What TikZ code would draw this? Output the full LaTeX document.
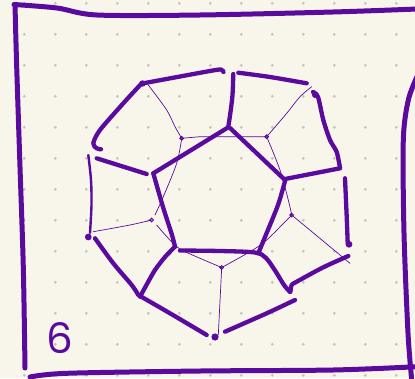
\documentclass[tikz,border=0pt]{standalone}
\usepackage{fontspec}
\newfontfamily\handfont{Poppins}
\usetikzlibrary{calc}
\definecolor{skInk}{HTML}{5B0A9E}
\definecolor{skPaper}{HTML}{F8F6EB}
\definecolor{skDot}{HTML}{C6C6BF}
\tikzset{
  pen/.style={draw=skInk, line width=4.3pt, line cap=round, line join=round},
  penMid/.style={pen, line width=2.4pt},
  penThin/.style={draw=skInk, line width=0.7pt, line cap=round, line join=round},
  frame/.style={pen, line width=5pt},
  blob/.style={fill=skInk},
  dualmark/.style={draw=skInk, line width=1pt},
}
\begin{document}
\begin{tikzpicture}[x=1pt,y=-1pt]
  \useasboundingbox (0,0) rectangle (415,378);
  \fill[skPaper] (0,0) rectangle (415,378);
  \foreach \i in {0,...,12}
    \foreach \j in {0,...,12}
      \fill[skDot] (24.3+31*\i,3.3+31*\j) circle (1.6);

  % frame
  \draw[frame] plot[smooth] coordinates {(14,4.5) (57,8) (97,15) (200,15) (333,12) (417,9)};
  \draw[frame] plot[smooth] coordinates {(15,5) (16.7,67) (20,167) (23.3,267) (25,368)};
  \draw[frame] plot[smooth] coordinates {(30,377) (66.7,373.3) (200,371) (333,370) (417,366.7)};
  \draw[frame] plot[smooth] coordinates {(417,76.7) (408.3,100) (403.3,140) (404,233) (408,333) (411.7,380)};

  % dual points
  \coordinate (m1) at (181.7,138.3);
  \coordinate (m2) at (266.7,136.7);
  \coordinate (m3) at (291.7,215);
  \coordinate (m4) at (221.7,267.5);
  \coordinate (m5) at (151.7,220);

  % inner pentagon
  \draw[pen] (153.3,173.3) -- (228.3,127.3);
  \draw[pen] (230,128) -- (285,180);
  \draw[pen] plot[smooth] coordinates {(285,181) (278,205) (265,237) (258.3,253.3)};
  \draw[pen] plot[smooth, tension=0.5] coordinates {(180,250.5) (220,251) (255,252.5) (266,258) (276,272) (284,285) (290,292)};
  \draw[pen] plot[smooth] coordinates {(153.3,173.3) (163,207) (172,235) (175,246.7)};

  % spokes
  \draw[pen] plot[smooth] coordinates {(228.3,126.7) (230.5,112) (232.5,95) (233.3,74)};
  \draw[pen] (285,179) -- (340,168.3);
  \draw[pen] (146.7,174) -- (96.7,158.3);
  \draw[pen] plot[smooth] coordinates {(175,246.7) (165,257) (155,270) (147,284) (140,296.7)};

  % outer ring
  \draw[pen] plot[smooth] coordinates {(143.3,83.3) (180,76.5) (210,71) (221,69.5) (223.5,72)};
  \draw[pen] plot[smooth] coordinates {(238.3,72.7) (270,77) (306.7,83.3)};
  \draw[pen] plot[smooth] coordinates {(313,92) (318,97) (323.3,120) (330,140) (336.7,152) (340,168)};
  \draw[pen] plot[smooth] coordinates {(345,178.3) (346.7,216.7) (347.7,243.3)};
  \draw[pen] plot[smooth, tension=0.5] coordinates {(348.3,256) (323.3,267.3) (296.7,281.7) (291.7,285) (290.5,291.7)};
  \draw[pen] plot[smooth] coordinates {(295,300) (266.7,313.3) (225,331.7)};
  \draw[pen] plot[smooth] coordinates {(206.7,335) (170,313.3) (140,296)};
  \draw[pen] plot[smooth] coordinates {(138.3,295) (131.7,285) (113.3,263.3) (95,238.3)};
  \draw[penMid] plot[smooth] coordinates {(88.3,155) (91,180) (91.5,205) (90,233)};
  \draw[pen] plot[smooth, tension=0.5] coordinates {(141.7,83.3) (123.3,103.3) (100,130) (93.3,143.3) (96.7,148.3) (101,149.3)};

  % vertex blobs
  \fill[blob] (142.5,83.5) circle (3.2);
  \fill[blob] (315,95) circle (3);
  \fill[blob] (349,244.3) circle (3.4);
  \fill[blob] (215,337) circle (3.6);
  \fill[blob] (88.3,237) circle (3.4);

  % thin dual lines
  \draw[penThin] plot[smooth] coordinates {(148.3,85) (166.7,110) (175,126.7) (m1)};
  \draw[penThin] (m1) -- (200,136.7) -- (m2);
  \draw[penThin] plot[smooth] coordinates {(m2) (286.7,113.3) (300,96.7) (311.7,86.7)};
  \draw[penThin] plot[smooth] coordinates {(m2) (280,170) (288.3,200) (m3)};
  \draw[penThin] (m3) -- (350,263.3);
  \draw[penThin] plot[smooth] coordinates {(m3) (266.7,240) (250,251.7) (m4)};
  \draw[penThin] (m4) -- (218.3,335);
  \draw[penThin] plot[smooth] coordinates {(m4) (200,258.3) (180,249) (168,238) (156.7,225)};
  \draw[penThin] plot[smooth] coordinates {(m5) (130,225) (93.3,231.7)};
  \draw[penThin] plot[smooth] coordinates {(155,215) (163.3,196.7) (176.7,163.3) (m1)};

  % dual marks
  \foreach \m in {m1,m2,m3,m4,m5}
    \draw[dualmark] (\m) circle (1.8);

  \node[text=skInk, font=\handfont\fontsize{42}{42}\selectfont] (pageno) at (60,338) {6};
\end{tikzpicture}
\end{document}
